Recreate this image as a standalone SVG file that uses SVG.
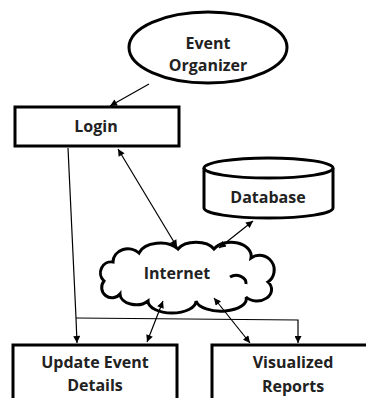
<svg xmlns="http://www.w3.org/2000/svg" width="366" height="398" viewBox="0 0 366 398">
  <defs>
    <marker id="arrow" viewBox="0 0 10 10" refX="10" refY="5" markerWidth="8" markerHeight="7" markerUnits="userSpaceOnUse" orient="auto-start-reverse">
      <path d="M0,0 L10,5 L0,10 Z" fill="#000"/>
    </marker>
    <style>
      .shape { fill: #fff; stroke: #000; stroke-width: 3; }
      .link { fill: none; stroke: #000; stroke-width: 1.2; }
      .curl { fill: none; stroke: #000; stroke-width: 3; }
      .label { font-family: "Open Sans", "Liberation Sans", sans-serif; font-weight: bold; font-size: 16px; fill: #222; text-anchor: middle; }
    </style>
  </defs>
  <rect width="366" height="398" fill="#fff"/>

  <g id="event-organizer">
    <ellipse class="shape" cx="208" cy="47.5" rx="79" ry="35.5"/>
    <text class="label" x="208" y="49">Event</text>
    <text class="label" x="208" y="71">Organizer</text>
  </g>

  <g id="login">
    <rect class="shape" x="15" y="107" width="164" height="39"/>
    <text class="label" x="96" y="132">Login</text>
  </g>

  <g id="database">
    <path class="shape" d="M204,168 L204,208 A64,10 0 0 0 333,208 L333,168 A64,10 0 0 0 204,168 Z"/>
    <path class="curl" d="M204,168 A64,10 0 0 0 333,168"/>
    <text class="label" x="268" y="203">Database</text>
  </g>

  <g id="internet">
    <path class="shape" d="M104,281
      A11,11 0 0 1 113,262
      A15,13 0 0 1 139,253
      A22,14 0 0 1 178,249
      A20,12 0 0 1 214,249
      A20,14 0 0 1 251,258
      A14,14 0 0 1 268,282
      A14,11 0 0 1 246,297
      A25,12 0 0 1 196,301
      A24,12 0 0 1 148,301
      A16,11 0 0 1 120,294
      A10,10 0 0 1 104,281 Z"/>
    <path class="curl" d="M230,277 A10,8 0 0 1 246,284"/>
    <text class="label" x="177" y="279">Internet</text>
  </g>

  <g id="update-event-details">
    <rect class="shape" x="13" y="345" width="164" height="60"/>
    <text class="label" x="95" y="368">Update Event</text>
    <text class="label" x="95" y="391">Details</text>
  </g>

  <g id="visualized-reports">
    <rect class="shape" x="212" y="345" width="170" height="60"/>
    <text class="label" x="293" y="368">Visualized</text>
    <text class="label" x="293" y="392">Reports</text>
  </g>

  <!-- connectors, drawn last so every arrowhead sits on top of the shapes -->
  <g id="connectors">
    <line class="link" x1="149" y1="84" x2="110" y2="106" marker-end="url(#arrow)"/>
    <line class="link" x1="118" y1="149" x2="177" y2="247" marker-start="url(#arrow)" marker-end="url(#arrow)"/>
    <line class="link" x1="253" y1="221" x2="219" y2="248" marker-start="url(#arrow)" marker-end="url(#arrow)"/>
    <polyline class="link" points="68,148 76,318 77,343" marker-end="url(#arrow)"/>
    <polyline class="link" points="76,318 298,320 298,343" marker-end="url(#arrow)"/>
    <line class="link" x1="163" y1="301" x2="147" y2="342" marker-start="url(#arrow)" marker-end="url(#arrow)"/>
    <line class="link" x1="214" y1="298" x2="250" y2="343" marker-start="url(#arrow)" marker-end="url(#arrow)"/>
  </g>
</svg>
